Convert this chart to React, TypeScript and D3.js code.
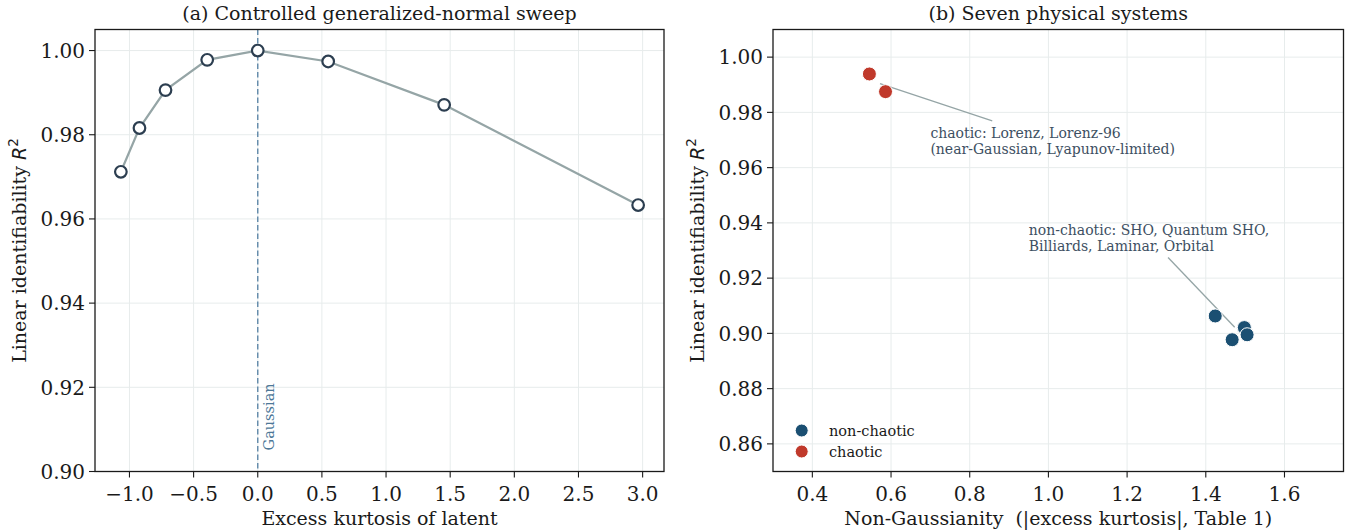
import { useEffect, useRef } from 'react';
import * as d3 from 'd3';

// (a) controlled sweep: excess kurtosis vs linear identifiability R^2
const sweepKurtosis = [-1.067, -0.922, -0.719, -0.394, 0.0, 0.549, 1.453, 2.965];
const sweepR2 = [0.9712, 0.9816, 0.9906, 0.9978, 1.0, 0.9974, 0.9871, 0.9633];

// (b) seven physical systems
const systemGroup = ['non-chaotic', 'non-chaotic', 'non-chaotic', 'non-chaotic', 'non-chaotic', 'chaotic', 'chaotic'];
const systemKurtosis = [1.424, 1.467, 1.497, 1.498, 1.505, 0.545, 0.586];
const systemR2 = [0.9063, 0.8977, 0.9019, 0.9021, 0.8995, 0.9939, 0.9875];

const groups = ['non-chaotic', 'chaotic'];
const groupColors = ['#1b4f72', '#c0392b'];
const groupNotes = [
  ['non-chaotic: SHO, Quantum SHO,', 'Billiards, Laminar, Orbital'],
  ['chaotic: Lorenz, Lorenz-96', '(near-Gaussian, Lyapunov-limited)'],
];
const noteX = [0.95, 0.70];
const noteY = [0.93, 0.965];

const xTicksA = [-1.0, -0.5, 0.0, 0.5, 1.0, 1.5, 2.0, 2.5, 3.0];
const yTicksA = [0.90, 0.92, 0.94, 0.96, 0.98, 1.00];
const xTicksB = [0.4, 0.6, 0.8, 1.0, 1.2, 1.4, 1.6];
const yTicksB = [0.86, 0.88, 0.90, 0.92, 0.94, 0.96, 0.98, 1.00];

const W = 1352;
const H = 531;
const FONT = "'DejaVu Serif', serif";
const TOP = 29.5;
const BOTTOM = 471.5;

function drawFrame(g, x, y, xTicks, yTicks, xFmt, yFmt, title, xLabel) {
  const [x0, x1] = x.range();
  const grid = g.append('g');
  xTicks.forEach(t => {
    grid.append('line').attr('x1', x(t)).attr('x2', x(t)).attr('y1', TOP).attr('y2', BOTTOM)
      .attr('stroke', '#e7ecec').attr('stroke-width', 1);
  });
  yTicks.forEach(t => {
    grid.append('line').attr('x1', x0).attr('x2', x1).attr('y1', y(t)).attr('y2', y(t))
      .attr('stroke', '#e7ecec').attr('stroke-width', 1);
  });

  const ax = g.append('g').attr('font-family', FONT).attr('fill', '#1a1a1a');
  xTicks.forEach(t => {
    ax.append('line').attr('x1', x(t)).attr('x2', x(t)).attr('y1', BOTTOM).attr('y2', BOTTOM + 6)
      .attr('stroke', '#1a1a1a').attr('stroke-width', 1.1);
    ax.append('text').attr('x', x(t)).attr('y', BOTTOM + 29).attr('font-size', 20)
      .attr('text-anchor', 'middle').text(xFmt(t));
  });
  yTicks.forEach(t => {
    ax.append('line').attr('x1', x0 - 6).attr('x2', x0).attr('y1', y(t)).attr('y2', y(t))
      .attr('stroke', '#1a1a1a').attr('stroke-width', 1.1);
    ax.append('text').attr('x', x0 - 10).attr('y', y(t) + 7.2).attr('font-size', 20)
      .attr('text-anchor', 'end').text(yFmt(t));
  });

  ax.append('text').attr('x', (x0 + x1) / 2).attr('y', 20).attr('font-size', 19)
    .attr('text-anchor', 'middle').text(title);
  ax.append('text').attr('x', (x0 + x1) / 2).attr('y', 525).attr('font-size', 19)
    .attr('text-anchor', 'middle').attr('xml:space', 'preserve').style('white-space', 'pre').text(xLabel);

  const yl = ax.append('text')
    .attr('transform', `translate(${x0 - 69},${(TOP + BOTTOM) / 2}) rotate(-90)`)
    .attr('font-size', 19).attr('text-anchor', 'middle');
  yl.append('tspan').text('Linear identifiability ');
  yl.append('tspan').attr('font-family', "'DejaVu Sans', sans-serif").attr('font-style', 'italic').text('R');
  yl.append('tspan').attr('font-family', "'DejaVu Sans', sans-serif").attr('font-size', 13.5).attr('dy', -8.5).text('2');
}

function drawSpines(g, x) {
  const [x0, x1] = x.range();
  g.append('rect').attr('x', x0).attr('y', TOP).attr('width', x1 - x0).attr('height', BOTTOM - TOP)
    .attr('fill', 'none').attr('stroke', '#1a1a1a').attr('stroke-width', 1.3);
}

export default function App() {
  const svgRef = useRef(null);

  useEffect(() => {
    const svg = d3.select(svgRef.current);
    svg.selectAll('*').remove();

    // ---------- panel (a)
    const kExt = d3.extent(sweepKurtosis);
    const pad = (kExt[1] - kExt[0]) * 0.05;
    const xA = d3.scaleLinear().domain([kExt[0] - pad, kExt[1] + pad]).range([95, 664]);
    const yA = d3.scaleLinear().domain([0.90, 1.005]).range([BOTTOM, TOP]);
    const gA = svg.append('g');
    drawFrame(gA, xA, yA, xTicksA, yTicksA, d3.format('.1f'), d3.format('.2f'),
      '(a) Controlled generalized-normal sweep', 'Excess kurtosis of latent');

    gA.append('line').attr('x1', xA(0)).attr('x2', xA(0)).attr('y1', TOP).attr('y2', BOTTOM)
      .attr('stroke', '#5f88a8').attr('stroke-width', 1.4).attr('stroke-dasharray', '5.5,3');
    gA.append('text')
      .attr('transform', `translate(${xA(0) + 16},${yA(0.905)}) rotate(-90)`)
      .attr('font-family', FONT).attr('font-size', 14.5).attr('fill', '#4d7898').text('Gaussian');

    const sweep = sweepKurtosis.map((k, i) => [k, sweepR2[i]]);
    gA.append('path')
      .attr('d', d3.line().x(d => xA(d[0])).y(d => yA(d[1]))(sweep))
      .attr('fill', 'none').attr('stroke', '#95a5a6').attr('stroke-width', 2.2);
    gA.selectAll('circle.pt').data(sweep).enter().append('circle')
      .attr('cx', d => xA(d[0])).attr('cy', d => yA(d[1])).attr('r', 5.8)
      .attr('fill', '#fff').attr('stroke', '#2c3e50').attr('stroke-width', 2.2);
    drawSpines(gA, xA);

    // ---------- panel (b)
    const xB = d3.scaleLinear().domain([0.3, 1.75]).range([773, 1343.5]);
    const yB = d3.scaleLinear().domain([0.85, 1.01]).range([BOTTOM, TOP]);
    const gB = svg.append('g');
    drawFrame(gB, xB, yB, xTicksB, yTicksB, d3.format('.1f'), d3.format('.2f'),
      '(b) Seven physical systems', 'Non-Gaussianity  (|excess kurtosis|, Table 1)');

    const annLines = gB.append('g');
    groups.forEach((grp, gi) => {
      const idx = systemGroup.map((s, i) => (s === grp ? i : -1)).filter(i => i >= 0);
      gB.selectAll(`circle.g${gi}`).data(idx).enter().append('circle')
        .attr('cx', i => xB(systemKurtosis[i])).attr('cy', i => yB(systemR2[i])).attr('r', 7)
        .attr('fill', groupColors[gi]).attr('stroke', '#fff').attr('stroke-width', 1);
    });

    // annotations pointing at each group's mean
    groups.forEach((grp, gi) => {
      const idx = systemGroup.map((s, i) => (s === grp ? i : -1)).filter(i => i >= 0);
      const tx = xB(d3.mean(idx, i => systemKurtosis[i]));
      const ty = yB(d3.mean(idx, i => systemR2[i]));
      const lines = groupNotes[gi];
      const baseY = yB(noteY[gi]);
      const t = gB.append('text').attr('font-family', FONT).attr('font-size', 14).attr('fill', '#3d4f62');
      lines.forEach((ln, li) => {
        t.append('tspan').attr('x', xB(noteX[gi])).attr('y', baseY - (lines.length - 1 - li) * 16).text(ln);
      });
      const bb = t.node().getBBox();
      const cx = bb.x + bb.width / 2;
      const cy = bb.y + bb.height / 2;
      const hw = bb.width / 2 + 4;
      const hh = bb.height / 2 + 4;
      const dx = tx - cx;
      const dy = ty - cy;
      const s = Math.min(hw / Math.abs(dx || 1e-9), hh / Math.abs(dy || 1e-9));
      const len = Math.hypot(dx, dy);
      const ex = tx - (dx / len) * 2.7;
      const ey = ty - (dy / len) * 2.7;
      annLines.append('line')
        .attr('x1', cx + dx * s).attr('y1', cy + dy * s).attr('x2', ex).attr('y2', ey)
        .attr('stroke', '#95a5a6').attr('stroke-width', 1.3);
    });

    // legend
    const [bx0] = xB.range();
    const lg = gB.append('g').attr('font-family', FONT).attr('font-size', 14.5).attr('fill', '#1a1a1a');
    groups.forEach((grp, gi) => {
      const ly = BOTTOM - 41 + gi * 21;
      lg.append('circle').attr('cx', bx0 + 28.7).attr('cy', ly).attr('r', 6.5)
        .attr('fill', groupColors[gi]).attr('stroke', '#fff').attr('stroke-width', 1);
      lg.append('text').attr('x', bx0 + 56).attr('y', ly + 5).text(grp);
    });
    drawSpines(gB, xB);
  }, []);

  return (
    <svg ref={svgRef} width={W} height={H}
      style={{ position: 'absolute', left: 0, top: 0, background: '#fff', display: 'block' }} />
  );
}
